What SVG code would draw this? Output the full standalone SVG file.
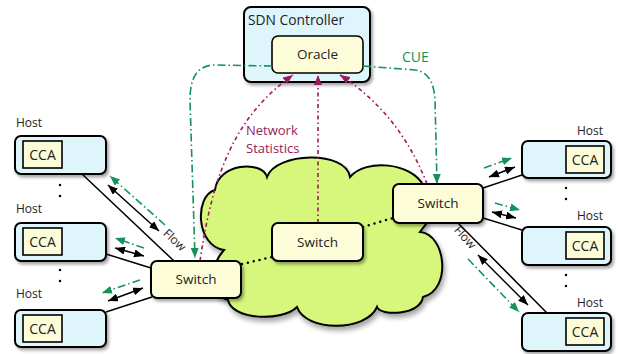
<svg xmlns="http://www.w3.org/2000/svg" width="618" height="354" viewBox="0 0 618 354">
<defs>
<filter id="sh" x="-20%" y="-20%" width="150%" height="160%">
<feDropShadow dx="2" dy="2.5" stdDeviation="1.5" flood-color="#000" flood-opacity="0.35"/>
</filter>
<filter id="csh" x="-10%" y="-10%" width="130%" height="130%">
<feDropShadow dx="2" dy="4" stdDeviation="2.5" flood-color="#000" flood-opacity="0.35"/>
</filter>
<marker id="ab" viewBox="0 0 10 8" refX="10" refY="4" markerWidth="10" markerHeight="8" markerUnits="userSpaceOnUse" orient="auto-start-reverse">
<path d="M0,0 L10,4 L0,8 z" fill="#000"/>
</marker>
<marker id="ag" viewBox="0 0 10 8" refX="10" refY="4" markerWidth="10" markerHeight="8" markerUnits="userSpaceOnUse" orient="auto">
<path d="M0,0 L10,4 L0,8 z" fill="#13935a"/>
</marker>
<marker id="am" viewBox="0 0 10 8" refX="10" refY="4" markerWidth="10" markerHeight="8" markerUnits="userSpaceOnUse" orient="auto">
<path d="M0,0 L10,4 L0,8 z" fill="#9a1a5a"/>
</marker>
</defs>
<style>
text{font-family:"Open Sans","Liberation Sans",sans-serif;fill:#222}
.host{fill:#dff5fc;stroke:#000;stroke-width:2;filter:url(#sh)}
.yel{fill:#fdfcd8;stroke:#000;stroke-width:1.6}
.sw{fill:#fdfcd8;stroke:#000;stroke-width:2;filter:url(#sh)}
.cca{font-size:14px;text-anchor:middle}
.lbl{font-size:12px}
.swt{font-size:13.5px;text-anchor:middle}
.solid{stroke:#000;stroke-width:1.5;fill:none}
.dbl{stroke:#000;stroke-width:1.5;fill:none;marker-start:url(#ab);marker-end:url(#ab)}
.grn{stroke:#13935a;stroke-width:1.6;fill:none;stroke-dasharray:8 3 1.5 3;marker-end:url(#ag)}
.mag{stroke:#9a1a5a;stroke-width:1.6;fill:none;stroke-dasharray:4 3 1.5 3;marker-end:url(#am)}
.dots{stroke:#000;stroke-width:2.5;fill:none;stroke-linecap:round;stroke-dasharray:0 6}
.vdots{stroke:#000;stroke-width:2.5;fill:none;stroke-linecap:round;stroke-dasharray:0 11}
</style>
<rect width="618" height="354" fill="#fff"/>

<g id="cloud">
<path d="M224 250 C196 246 194 196 215 190 C218 163 262 160 267 177 C276 152 346 150 350 177 C366 158 412 163 423 185 L426 224 L420 232 C446 234 452 290 423 297 C420 316 380 316 377 307 C366 332 306 332 297 307 C282 322 232 320 228 300 C210 296 208 268 224 250 Z" fill="#d6f77b" stroke="#000" stroke-width="2" filter="url(#csh)"/>
</g>

<g id="controller">
<rect x="244" y="7" width="126" height="75" rx="7" class="host"/>
<text x="248" y="25" font-size="13.8">SDN Controller</text>
</g>
<g id="oracle">
<rect x="272" y="36" width="91" height="37" rx="6" class="yel"/>
<text x="317.5" y="59" class="swt">Oracle</text>
</g>

<g id="connectors">
<line class="solid" x1="82" y1="174" x2="174" y2="261"/>
<line class="solid" x1="106" y1="254" x2="151" y2="268"/>
<line class="solid" x1="106" y1="312" x2="152" y2="297"/>
<line class="solid" x1="483" y1="188" x2="522" y2="175"/>
<line class="solid" x1="483" y1="218" x2="522" y2="230"/>
<line class="solid" x1="458" y1="223" x2="547" y2="313"/>

<line class="dbl" x1="108" y1="185" x2="159" y2="231"/>
<line class="dbl" x1="115" y1="248" x2="144" y2="256"/>
<line class="dbl" x1="108" y1="301" x2="143" y2="288"/>
<line class="dbl" x1="489" y1="177" x2="515" y2="167"/>
<line class="dbl" x1="492" y1="212" x2="516" y2="218"/>
<line class="dbl" x1="478" y1="255" x2="528" y2="305"/>

<line class="grn" x1="165" y1="225" x2="110" y2="176"/>
<line class="grn" x1="144" y1="248" x2="115" y2="238"/>
<line class="grn" x1="140" y1="280" x2="102" y2="293"/>
<line class="grn" x1="484" y1="168" x2="512" y2="158"/>
<line class="grn" x1="495" y1="203" x2="520" y2="210"/>
<line class="grn" x1="468" y1="259" x2="519" y2="312"/>

<path class="grn" d="M272 66 L215 65 C197 65 190 78 190 100 L195 258"/>
<path class="grn" d="M363 66 L415 70 C430 72 434 85 435 100 L437 184"/>

<path class="mag" d="M200 261 C212 180 232 118 293 75"/>
<line class="mag" x1="318" y1="223" x2="318" y2="75"/>
<path class="mag" d="M427 184 C410 140 382 102 340 75"/>

<line class="dots" x1="242" y1="264" x2="272" y2="257"/>
<line class="dots" x1="363" y1="227" x2="393" y2="218"/>

<line class="vdots" x1="60" y1="185" x2="60" y2="207"/>
<line class="vdots" x1="60" y1="270" x2="60" y2="292"/>
<line class="vdots" x1="566" y1="188" x2="566" y2="210"/>
<line class="vdots" x1="566" y1="275" x2="566" y2="297"/>

<text class="lbl" transform="translate(172 243) rotate(43)" text-anchor="middle">Flow</text>
<text class="lbl" transform="translate(462 240) rotate(48)" text-anchor="middle">Flow</text>
<text x="246" y="135" font-size="13" style="fill:#9a1a5a">Network</text>
<text x="246" y="153" font-size="13" style="fill:#9a1a5a">Statistics</text>
<text x="402" y="62" font-size="14" style="fill:#13935a">CUE</text>
</g>

<g id="host-l1">
<text x="16" y="127" class="lbl">Host</text>
<rect x="15" y="136" width="91" height="38" rx="6" class="host"/>
<rect x="23" y="141" width="39" height="27" class="yel"/>
<text x="42.5" y="160" class="cca">CCA</text>
</g>
<g id="host-l2">
<text x="16" y="213" class="lbl">Host</text>
<rect x="15" y="223" width="91" height="38" rx="6" class="host"/>
<rect x="23" y="228" width="39" height="27" class="yel"/>
<text x="42.5" y="247" class="cca">CCA</text>
</g>
<g id="host-l3">
<text x="16" y="298" class="lbl">Host</text>
<rect x="15" y="310" width="91" height="37" rx="6" class="host"/>
<rect x="23" y="315" width="39" height="27" class="yel"/>
<text x="42.5" y="334" class="cca">CCA</text>
</g>

<g id="host-r1">
<text x="603" y="135" class="lbl" text-anchor="end">Host</text>
<rect x="522" y="141" width="89" height="37" rx="6" class="host"/>
<rect x="566" y="146" width="38" height="27" class="yel"/>
<text x="585" y="165" class="cca">CCA</text>
</g>
<g id="host-r2">
<text x="603" y="220" class="lbl" text-anchor="end">Host</text>
<rect x="522" y="227" width="89" height="38" rx="6" class="host"/>
<rect x="566" y="232" width="38" height="27" class="yel"/>
<text x="585" y="251" class="cca">CCA</text>
</g>
<g id="host-r3">
<text x="603" y="307" class="lbl" text-anchor="end">Host</text>
<rect x="522" y="313" width="89" height="38" rx="6" class="host"/>
<rect x="566" y="318" width="38" height="27" class="yel"/>
<text x="585" y="337" class="cca">CCA</text>
</g>

<g id="switch-left">
<rect x="151" y="261" width="90" height="37" rx="6" class="sw"/>
<text x="196" y="284" class="swt">Switch</text>
</g>
<g id="switch-mid">
<rect x="272" y="223" width="91" height="38" rx="6" class="sw"/>
<text x="317.5" y="246.5" class="swt">Switch</text>
</g>
<g id="switch-right">
<rect x="393" y="184" width="90" height="39" rx="6" class="sw"/>
<text x="438" y="208" class="swt">Switch</text>
</g>
</svg>
